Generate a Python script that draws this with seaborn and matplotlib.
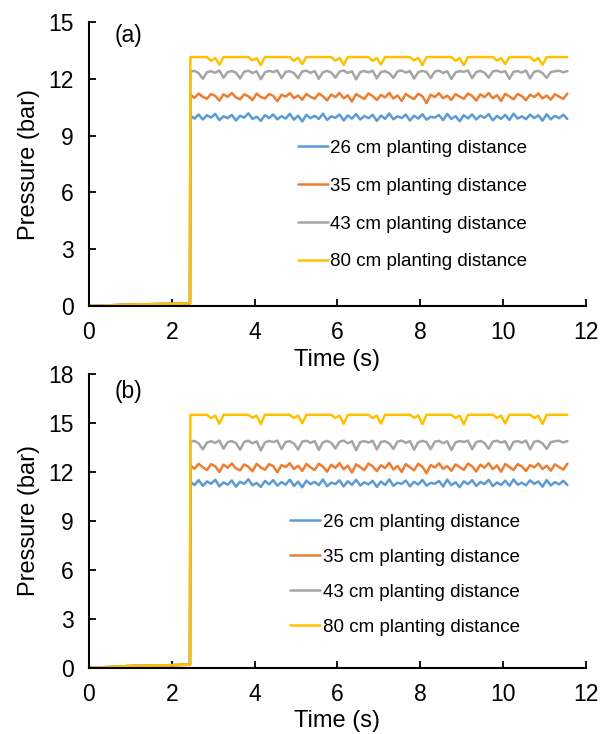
import numpy as np
import pandas as pd
import matplotlib
matplotlib.use("Agg")
import matplotlib.pyplot as plt
import seaborn as sns

# ---------------- data ----------------
labels = ["26 cm planting distance", "35 cm planting distance",
          "43 cm planting distance", "80 cm planting distance"]
colors = ["#5B9BD5", "#ED7D31", "#A5A5A5", "#FFC000"]

ramp_t = [0.0, 1.0, 2.0, 2.44]
ramp_a = [0.0, 0.08, 0.12, 0.15]
ramp_b = [0.0, 0.12, 0.17, 0.20]
steady_t0 = 2.45
steady_dt = 0.1

a26 = [10.05, 9.90, 10.12, 9.85, 10.08, 9.95, 10.15, 9.82, 10.02, 9.92,
       10.10, 9.80, 10.05, 9.95, 10.18, 9.88, 10.00, 9.78, 10.08, 9.93,
       10.12, 9.86, 10.03, 9.90, 10.15, 9.84, 10.06, 9.75, 10.10, 9.92,
       10.05, 9.88, 10.16, 9.83, 10.02, 9.94, 10.12, 9.80, 10.07, 9.90,
       10.14, 9.85, 10.04, 9.92, 10.10, 9.78, 10.06, 9.89, 10.17, 9.86,
       10.02, 9.93, 10.11, 9.80, 10.05, 9.90, 10.13, 9.84, 10.00, 9.95,
       10.09, 9.82, 10.15, 9.88, 10.03, 9.76, 10.08, 9.91, 10.12, 9.85,
       10.06, 9.94, 10.14, 9.81, 10.04, 9.89, 10.10, 9.83, 10.16, 9.90,
       10.02, 9.87, 10.11, 9.93, 10.07, 9.79, 10.13, 9.86, 10.05, 9.92,
       10.10, 9.88]
a35 = [11.15, 11.00, 11.22, 11.05, 10.95, 11.20, 11.10, 10.85, 11.18, 11.05,
       11.25, 11.02, 10.92, 11.18, 11.08, 10.88, 11.22, 11.04, 10.96, 11.20,
       11.10, 10.82, 11.16, 11.06, 11.24, 10.98, 11.12, 10.90, 11.20, 11.05,
       10.95, 11.22, 11.08, 10.86, 11.17, 11.03, 11.25, 10.97, 11.13, 10.80,
       11.19, 11.06, 10.94, 11.23, 11.09, 10.88, 11.15, 11.02, 11.26, 10.96,
       11.12, 10.84, 11.20, 11.05, 10.93, 11.21, 11.08, 10.72, 11.16, 11.04,
       11.24, 10.98, 11.11, 10.89, 11.19, 11.06, 10.95, 11.22, 11.10, 10.85,
       11.18, 11.03, 11.25, 10.97, 11.14, 10.83, 11.21, 11.07, 10.92, 11.20,
       11.09, 10.87, 11.16, 11.04, 11.23, 10.96, 11.12, 10.90, 11.19, 11.06,
       10.94, 11.22]
a43 = [12.38, 12.42, 12.30, 12.00, 12.35, 12.40, 12.32, 12.44, 12.05, 12.36,
       12.41, 12.33, 12.02, 12.38, 12.43, 12.31, 12.40, 11.98, 12.34, 12.42,
       12.36, 12.44, 12.04, 12.37, 12.40, 12.30, 12.03, 12.39, 12.43, 12.32,
       12.41, 12.00, 12.35, 12.42, 12.33, 12.06, 12.38, 12.44, 12.31, 12.40,
       11.97, 12.36, 12.41, 12.34, 12.43, 12.02, 12.37, 12.40, 12.30, 12.05,
       12.39, 12.44, 12.33, 12.41, 12.01, 12.35, 12.42, 12.36, 12.04, 12.38,
       12.43, 12.31, 12.40, 11.99, 12.34, 12.41, 12.37, 12.44, 12.03, 12.36,
       12.42, 12.32, 12.06, 12.39, 12.43, 12.35, 12.40, 12.00, 12.37, 12.41,
       12.33, 12.44, 12.02, 12.38, 12.42, 12.30, 12.05, 12.36, 12.40, 12.43,
       12.34, 12.41]
a80 = [13.15, 13.15, 13.15, 13.15, 13.15, 12.95, 13.10, 12.75, 13.15, 13.15,
       13.15, 13.15, 13.15, 13.15, 13.15, 12.97, 13.10, 12.72, 13.15, 13.15,
       13.15, 13.15, 13.15, 13.15, 13.15, 12.95, 13.12, 12.78, 13.15, 13.15,
       13.15, 13.15, 13.15, 13.15, 13.15, 12.96, 13.10, 12.74, 13.15, 13.15,
       13.15, 13.15, 13.15, 13.15, 12.95, 13.10, 12.76, 13.15, 13.15, 13.15,
       13.15, 13.15, 13.15, 13.15, 12.97, 13.11, 12.73, 13.15, 13.15, 13.15,
       13.15, 13.15, 13.15, 13.15, 12.95, 13.10, 12.72, 13.15, 13.15, 13.15,
       13.15, 13.15, 13.15, 13.15, 12.96, 13.10, 12.77, 13.15, 13.15, 13.15,
       13.15, 13.15, 13.15, 12.95, 13.10, 12.74, 13.15, 13.15, 13.15, 13.15,
       13.15, 13.15]

b26 = [11.40, 11.20, 11.50, 11.15, 11.42, 11.28, 11.52, 11.12, 11.36, 11.22,
       11.48, 11.10, 11.40, 11.27, 11.55, 11.18, 11.33, 11.08, 11.45, 11.24,
       11.50, 11.16, 11.38, 11.22, 11.53, 11.14, 11.41, 11.06, 11.47, 11.25,
       11.39, 11.19, 11.54, 11.13, 11.35, 11.26, 11.49, 11.11, 11.43, 11.21,
       11.52, 11.17, 11.37, 11.24, 11.46, 11.09, 11.41, 11.20, 11.55, 11.15,
       11.34, 11.27, 11.48, 11.12, 11.40, 11.23, 11.51, 11.16, 11.33, 11.28,
       11.45, 11.11, 11.53, 11.19, 11.37, 11.07, 11.43, 11.25, 11.50, 11.14,
       11.39, 11.26, 11.52, 11.13, 11.36, 11.20, 11.47, 11.15, 11.54, 11.22,
       11.35, 11.18, 11.49, 11.27, 11.42, 11.10, 11.50, 11.17, 11.38, 11.24,
       11.46, 11.20]
b35 = [12.40, 12.20, 12.50, 12.28, 12.12, 12.48, 12.35, 12.00, 12.45, 12.26,
       12.52, 12.22, 12.10, 12.46, 12.32, 12.04, 12.50, 12.27, 12.14, 12.48,
       12.36, 11.98, 12.42, 12.30, 12.53, 12.18, 12.38, 12.06, 12.49, 12.28,
       12.12, 12.50, 12.33, 12.02, 12.44, 12.25, 12.54, 12.16, 12.39, 11.96,
       12.47, 12.30, 12.11, 12.52, 12.34, 12.05, 12.41, 12.24, 12.55, 12.15,
       12.37, 12.00, 12.48, 12.29, 12.10, 12.50, 12.32, 11.92, 12.43, 12.27,
       12.53, 12.19, 12.36, 12.07, 12.46, 12.30, 12.13, 12.51, 12.35, 12.03,
       12.45, 12.26, 12.54, 12.17, 12.40, 12.01, 12.49, 12.31, 12.12, 12.48,
       12.34, 12.06, 12.42, 12.28, 12.52, 12.18, 12.38, 12.08, 12.47, 12.30,
       12.14, 12.50]
b43 = [13.85, 13.90, 13.75, 13.38, 13.80, 13.88, 13.78, 13.92, 13.42, 13.83,
       13.89, 13.77, 13.36, 13.85, 13.91, 13.76, 13.87, 13.32, 13.81, 13.90,
       13.83, 13.92, 13.40, 13.84, 13.88, 13.74, 13.37, 13.86, 13.91, 13.78,
       13.89, 13.35, 13.82, 13.90, 13.79, 13.43, 13.85, 13.92, 13.76, 13.88,
       13.33, 13.83, 13.89, 13.80, 13.91, 13.38, 13.84, 13.88, 13.75, 13.41,
       13.86, 13.92, 13.78, 13.89, 13.36, 13.82, 13.90, 13.83, 13.40, 13.85,
       13.91, 13.76, 13.88, 13.34, 13.81, 13.89, 13.84, 13.92, 13.39, 13.83,
       13.90, 13.77, 13.42, 13.86, 13.91, 13.80, 13.88, 13.36, 13.84, 13.89,
       13.79, 13.92, 13.38, 13.85, 13.90, 13.75, 13.41, 13.83, 13.88, 13.91,
       13.80, 13.89]
b80 = [15.50, 15.50, 15.50, 15.50, 15.50, 15.30, 15.45, 14.95, 15.50, 15.50,
       15.50, 15.50, 15.50, 15.50, 15.50, 15.32, 15.45, 14.92, 15.50, 15.50,
       15.50, 15.50, 15.50, 15.50, 15.50, 15.30, 15.46, 14.98, 15.50, 15.50,
       15.50, 15.50, 15.50, 15.50, 15.50, 15.31, 15.45, 14.94, 15.50, 15.50,
       15.50, 15.50, 15.50, 15.50, 15.30, 15.45, 14.96, 15.50, 15.50, 15.50,
       15.50, 15.50, 15.50, 15.50, 15.32, 15.46, 14.93, 15.50, 15.50, 15.50,
       15.50, 15.50, 15.50, 15.50, 15.30, 15.45, 14.92, 15.50, 15.50, 15.50,
       15.50, 15.50, 15.50, 15.50, 15.31, 15.45, 14.97, 15.50, 15.50, 15.50,
       15.50, 15.50, 15.50, 15.30, 15.45, 14.94, 15.50, 15.50, 15.50, 15.50,
       15.50, 15.50]

x_ticks = [0, 2, 4, 6, 8, 10, 12]
y_ticks_a = [0, 3, 6, 9, 12, 15]
y_ticks_b = [0, 3, 6, 9, 12, 15, 18]


def build_frame(ramp, series):
    rows = []
    for lab, vals in zip(labels, series):
        ts = list(ramp_t) + [steady_t0 + steady_dt * i for i in range(len(vals))]
        vs = list(ramp) + list(vals)
        for t, v in zip(ts, vs):
            rows.append({"Time": t, "Pressure": v, "Series": lab})
    return pd.DataFrame(rows)


df_a = build_frame(ramp_a, [a26, a35, a43, a80])
df_b = build_frame(ramp_b, [b26, b35, b43, b80])

# ---------------- style ----------------
sns.set_theme(style="white")
plt.rcParams["font.family"] = ["Liberation Sans", "DejaVu Sans"]
plt.rcParams["text.color"] = "black"
plt.rcParams["axes.labelcolor"] = "black"

fig = plt.figure(figsize=(6.13, 7.34), dpi=100)
ax_a = fig.add_axes([0.145, 0.583, 0.811, 0.387])
ax_b = fig.add_axes([0.145, 0.090, 0.811, 0.4005])

palette = dict(zip(labels, colors))


def style_axes(ax, df, yticks, ylim, tag, tag_y, leg_y, leg_x, spacing):
    sns.lineplot(data=df, x="Time", y="Pressure",
                 hue="Series", palette=palette, hue_order=labels,
                 estimator=None, sort=False, linewidth=1.8, ax=ax, legend=True)
    ax.set_xlim(0, 12)
    ax.set_ylim(*ylim)
    ax.set_xticks(x_ticks)
    ax.set_yticks(yticks)
    for s in ["top", "right"]:
        ax.spines[s].set_visible(False)
    for s in ["left", "bottom"]:
        ax.spines[s].set_color("black")
        ax.spines[s].set_linewidth(1.5)
    ax.tick_params(axis="both", which="major", direction="in", length=5,
                   width=1.3, colors="black", labelcolor="black",
                   labelsize=16.5, pad=11, bottom=True, left=True)
    ax.set_xlabel("Time (s)", fontsize=17, labelpad=3, color="black")
    ax.set_ylabel("Pressure (bar)", fontsize=17, labelpad=6, color="black")
    ax.text(0.052, tag_y, tag, transform=ax.transAxes, fontsize=16.5,
            ha="left", va="center", color="black")
    handles, labs = ax.get_legend_handles_labels()
    order = [labs.index(l) for l in labels]
    leg = ax.legend([handles[i] for i in order], [labs[i] for i in order],
                    loc="upper left", bbox_to_anchor=(leg_x, leg_y),
                    frameon=False, fontsize=13.5, handlelength=1.6,
                    handletextpad=0.15, labelspacing=spacing,
                    borderaxespad=0, borderpad=0)
    for line in leg.get_lines():
        line.set_linewidth(1.8)
    for txt in leg.get_texts():
        txt.set_color("black")


style_axes(ax_a, df_a, y_ticks_a, (0, 15), "(a)", 0.951, 0.585, 0.42, 1.1)
style_axes(ax_b, df_b, y_ticks_b, (0, 18), "(b)", 0.94, 0.525, 0.405, 0.95)

fig.savefig("out.png", dpi=100)
